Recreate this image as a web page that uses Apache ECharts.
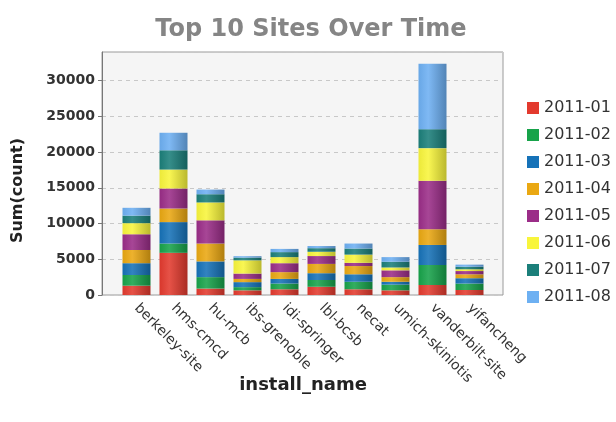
<!DOCTYPE html>
<html>
<head>
<meta charset="utf-8">
<script src="https://cdn.jsdelivr.net/npm/echarts@6/dist/echarts.min.js"></script>
<style>
	html, body { margin: 0; padding: 0; background: #fff; }
	#chart { width: 616px; height: 422px; }
</style>
</head>
<body>
<div id="chart"></div>
<script>
	var sites = ['berkeley-site', 'hms-cmcd', 'hu-mcb', 'ibs-grenoble', 'idi-springer', 'lbl-bcsb', 'necat', 'umich-skiniotis', 'vanderbilt-site', 'yifancheng'];
	var months = ['2011-01', '2011-02', '2011-03', '2011-04', '2011-05', '2011-06', '2011-07', '2011-08'];

	// one array per month, values in site order
	var m01 = [1300, 5900, 900, 650, 800, 1150, 800, 650, 1400, 700];
	var m02 = [1500, 1300, 1600, 450, 800, 950, 1050, 800, 2800, 900];
	var m03 = [1650, 3000, 2200, 700, 650, 950, 1050, 400, 2800, 750];
	var m04 = [1850, 1900, 2500, 450, 950, 1300, 1150, 650, 2200, 550];
	var m05 = [2200, 2800, 3250, 750, 1250, 1100, 450, 950, 6800, 450];
	var m06 = [1550, 2650, 2500, 1850, 850, 600, 1150, 400, 4550, 250];
	var m07 = [1050, 2700, 1150, 380, 700, 500, 850, 800, 2650, 350];
	var m08 = [1100, 2450, 650, 200, 450, 300, 700, 650, 9150, 300];
	var monthValues = [m01, m02, m03, m04, m05, m06, m07, m08];

	var colors = ['#e33a2e', '#17a34a', '#1672b8', '#eaa812', '#9b2d88', '#f8f53c', '#1b7f7a', '#6db0f2'];

	function shade(hex, f) {
		var n = parseInt(hex.slice(1), 16);
		var r = (n >> 16) & 255, g = (n >> 8) & 255, b = n & 255;
		if(f > 0) {
			r = r + (255 - r) * f; g = g + (255 - g) * f; b = b + (255 - b) * f;
		} else {
			r = r * (1 + f); g = g * (1 + f); b = b * (1 + f);
		}
		return 'rgb(' + Math.round(r) + ',' + Math.round(g) + ',' + Math.round(b) + ')';
	}

	var series = [];
	var legendData = [];
	for(var i = 0; i < months.length; i++) {
		series.push({
			name: months[i],
			type: 'bar',
			stack: 'total',
			xAxisIndex: 1,
			yAxisIndex: 1,
			barWidth: 28,
			clip: false,
			itemStyle: {
				color: new echarts.graphic.LinearGradient(0, 0, 1, 0, [
					{ offset: 0, color: shade(colors[i], -0.05) },
					{ offset: 0.35, color: shade(colors[i], 0.12) },
					{ offset: 1, color: shade(colors[i], -0.25) }
				])
			},
			data: monthValues[i]
		});
		legendData.push({ name: months[i], itemStyle: { color: colors[i] } });
	}

	var chart = echarts.init(document.getElementById('chart'), null, { renderer: 'canvas' });
	var option = {
		animation: false,
		textStyle: { fontFamily: 'DejaVu Sans' },
		title: {
			text: 'Top 10 Sites Over Time',
			left: 306,
			textAlign: 'center',
			top: 13,
			textStyle: { fontSize: 24, fontWeight: 'bold', color: '#858585', fontFamily: 'DejaVu Sans' }
		},
		legend: {
			orient: 'vertical',
			left: 522,
			top: 95,
			itemWidth: 12,
			itemHeight: 12,
			itemGap: 11,
			icon: 'rect',
			data: legendData,
			textStyle: { fontSize: 16, color: '#333', fontFamily: 'DejaVu Sans' }
		},
		grid: [{
			left: 102,
			right: 113,
			top: 52,
			bottom: 127,
			show: true,
			backgroundColor: '#f5f5f5',
			borderColor: '#9a9a9a',
			borderWidth: 1
		}, {
			left: 118,
			right: 128,
			top: 52,
			bottom: 127
		}],
		xAxis: [{
			gridIndex: 0,
			type: 'value',
			show: false
		}, {
			gridIndex: 1,
			type: 'category',
			data: sites,
			name: 'install_name',
			nameLocation: 'middle',
			nameGap: 81,
			nameMoveOverlap: false,
			nameTextStyle: { fontSize: 18, fontWeight: 'bold', color: '#222' },
			axisLine: { show: false },
			axisTick: { show: false },
			axisLabel: { interval: 0, rotate: -45, fontSize: 14, color: '#333', margin: 11 }
		}],
		yAxis: [{
			gridIndex: 0,
			type: 'value',
			min: 0,
			max: 34000,
			interval: 5000,
			name: 'Sum(count)',
			nameLocation: 'middle',
			nameGap: 76,
			nameMoveOverlap: false,
			nameTextStyle: { fontSize: 16, fontWeight: 'bold', color: '#222', padding: [0, 34, 0, 0] },
			axisLine: { show: true, lineStyle: { color: '#777' } },
			axisTick: { show: true, length: 4, lineStyle: { color: '#777' } },
			axisLabel: {
				fontSize: 14, fontWeight: 'bold', color: '#333', margin: 7, showMaxLabel: false,
				formatter: function(v) { return String(v); }
			},
			splitLine: { show: true, lineStyle: { color: '#c8c8c8', type: [4, 4] } }
		}, {
			gridIndex: 1,
			type: 'value',
			min: 0,
			max: 34000,
			show: false,
			splitLine: { show: false }
		}],
		series: series
	};
	chart.setOption(option);
</script>
</body>
</html>
